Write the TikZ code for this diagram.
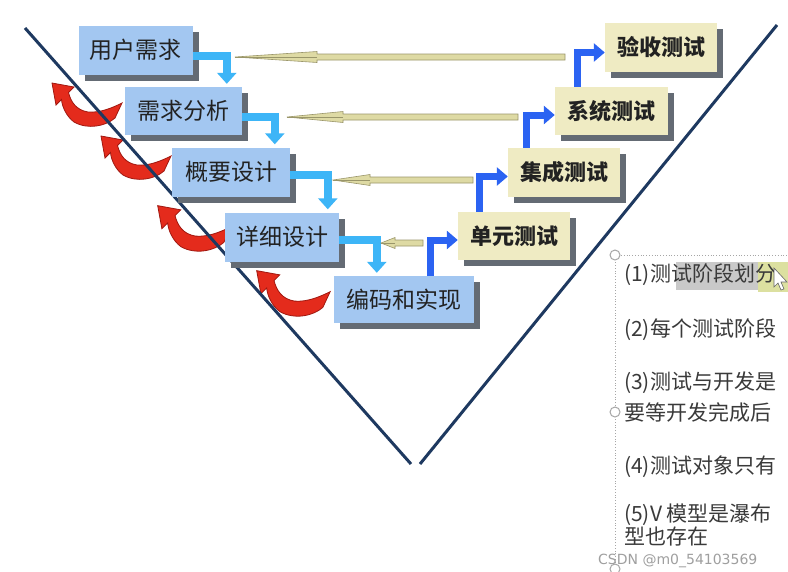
\documentclass[tikz,border=0pt]{standalone}
\usepackage{fontspec}
\newfontfamily\cjk{Noto Sans CJK SC}
\newfontfamily\wmfont{DejaVu Sans}
\usetikzlibrary{arrows.meta,shadows}
\definecolor{boxblue}{HTML}{A3C7F1}
\definecolor{boxyellow}{HTML}{EFEBC3}
\definecolor{shadowgray}{HTML}{646B74}
\definecolor{lightblue}{HTML}{3DB5F7}
\definecolor{deepblue}{HTML}{2B63F2}
\definecolor{navy}{HTML}{1E3960}
\definecolor{redf}{HTML}{E42B1C}
\definecolor{redd}{HTML}{A01810}
\definecolor{spearf}{HTML}{DEDAA4}
\definecolor{speard}{HTML}{9A966A}
\definecolor{textdark}{HTML}{222222}
\definecolor{paneltext}{HTML}{3A3A3A}
\definecolor{hlgray}{HTML}{C9C9C9}
\definecolor{hlyellow}{HTML}{DCE0A0}
\newcommand\spearto[3]{%
  \filldraw[fill=spearf, draw=speard, line width=0.6pt]
    ([yshift=3pt]#1) -- ([xshift=#3pt,yshift=3pt]#2) -- ([xshift=#3pt,yshift=5.5pt]#2)
    -- (#2) -- ([xshift=#3pt,yshift=-5.5pt]#2) -- ([xshift=#3pt,yshift=-3pt]#2)
    -- ([yshift=-3pt]#1) -- cycle;
  \draw[speard, line width=0.7pt] ([xshift=#3pt]#2) -- (#2);}
\tikzset{
  boxbase/.style={draw=none, minimum height=49pt, inner sep=0pt,
    text=textdark,
    drop shadow={shadow xshift=6pt, shadow yshift=-6pt, fill=shadowgray, opacity=1}},
  dbox/.style={boxbase, fill=boxblue, minimum width=114pt,
    font=\cjk\fontsize{23}{23}\selectfont},
  tbox/.style={boxbase, fill=boxyellow, minimum width=112pt,
    font=\cjk\bfseries\fontsize{22}{22}\selectfont},
  lbarrow/.style={draw=lightblue, line width=8pt, -{Triangle[width=19pt,length=11pt]}},
  dbarrow/.style={draw=deepblue, line width=7pt, -{Triangle[width=18pt,length=11pt]}},
  vline/.style={draw=navy, line width=3pt},
  paneltxt/.style={anchor=west, inner sep=0pt, text=paneltext,
    font=\cjk\fontsize{21}{21}\selectfont},
  panelline/.style={draw=gray!70, dotted, line width=0.8pt},
  handle/.style={draw=gray!70, fill=white, line width=1pt},
  uturn/.pic={
    \filldraw[fill=redf, draw=redd, line width=0.8pt]
      (4,-7) -- (-3,8) .. controls (-12,16) and (-30,20) .. (-44,12)
      .. controls (-52,6) and (-56,-4) .. (-56.5,-10.5) -- (-62,-5)
      -- (-66,-27) -- (-44,-23) -- (-49.5,-17.5)
      .. controls (-47,-8) and (-42,0) .. (-30,2)
      .. controls (-18,3) and (-6,-2) .. (4,-7) -- cycle;}
}
\begin{document}
\begin{tikzpicture}[x=1pt,y=-1pt]
\clip (0,0) rectangle (788,571);
\fill[white] (0,0) rectangle (788,571);

% red U-turn arrows
\pic at (118,110) {uturn};
\pic at (167,163) {uturn};
\pic[scale=1.05] at (227,234) {uturn};
\pic[scale=1.05] at (326,299) {uturn};

% V lines
\coordinate (vl1) at (25,28);
\coordinate (vl2) at (411,464);
\coordinate (vr1) at (777,25);
\coordinate (vr2) at (420,464);
\draw[vline] (vl1) -- (vl2);
\draw[vline] (vr1) -- (vr2);

% design boxes
\node[dbox] (ur) at (135.5,50) {用户需求};
\node[dbox, minimum width=117pt, minimum height=48pt] (xq) at (183.5,111) {需求分析};
\node[dbox, minimum width=118pt] (gy) at (231,172) {概要设计};
\node[dbox] (xx) at (282,237) {详细设计};
\node[dbox, minimum width=140pt, minimum height=47pt] (bm) at (404,299.5) {编码和实现};

% test boxes
\node[tbox, minimum height=48pt] (dy) at (514,236) {单元测试};
\node[tbox] (jc) at (564,172.5) {集成测试};
\node[tbox, minimum width=113pt, minimum height=48pt] (xt) at (611.5,111) {系统测试};
\node[tbox] (ys) at (661,47.5) {验收测试};

% light blue connectors
\draw[lbarrow] ([yshift=-6pt]ur.east) -| ([xshift=102pt,yshift=3pt]xq.north west);
\draw[lbarrow] ([yshift=-6pt]xq.east) -| ([xshift=103pt,yshift=3pt]gy.north west);
\draw[lbarrow] ([yshift=-3pt]gy.east) -| ([xshift=103pt,yshift=3pt]xx.north west);
\draw[lbarrow] ([yshift=-3pt]xx.east) -| ([xshift=43pt,yshift=3pt]bm.north west);

% deep blue connectors
\draw[dbarrow] ([xshift=-44pt]bm.north east) |- ([yshift=-4pt]dy.west);
\draw[dbarrow] ([xshift=22pt]dy.north west) |- ([yshift=-4pt]jc.west);
\draw[dbarrow] ([xshift=19pt]jc.north west) |- ([yshift=-4pt]xt.west);
\draw[dbarrow] ([xshift=23pt]xt.north west) |- ([yshift=-5pt]ys.west);

% spear connectors (test side -> design side)
\coordinate (s1s) at (565,57);  \coordinate (s1t) at (235,57);
\coordinate (s2s) at (518,117); \coordinate (s2t) at (287,117);
\coordinate (s3s) at (473,180); \coordinate (s3t) at (333,180);
\coordinate (s4s) at (423,243); \coordinate (s4t) at (381,243);
\spearto{s1s}{s1t}{82}
\spearto{s2s}{s2t}{56}
\spearto{s3s}{s3t}{37}
\spearto{s4s}{s4t}{14}

% right text panel
\fill[hlgray] (676,262) rectangle (758,290);
\fill[hlyellow] (758,262) rectangle (788,292);
\draw[panelline] (615,571) -- (615,255) -- (788,255);
\node[paneltxt] (p1) at (624,275) {(1)测试阶段划分};
\node[paneltxt] (p2) at (624,330) {(2)每个测试阶段};
\node[paneltxt] (p3) at (624,383) {(3)测试与开发是};
\node[paneltxt] (p3b) at (624,412) {要等开发完成后};
\node[paneltxt] (p4) at (624,467) {(4)测试对象只有};
\node[paneltxt] (p5) at (624,515) {(5)V 模型是瀑布};
\node[paneltxt] (p5b) at (624,537) {型也存在};
\filldraw[fill=white, draw=gray!80!black, line width=0.6pt]
  (774,268) -- (774,287) -- (778,283) -- (781,290) -- (784,289) -- (781,282) -- (787,282) -- cycle;
\draw[handle] (615,255) circle[radius=5pt];
\draw[handle] (615,412) circle[radius=5pt];
\draw[handle] (615,569) circle[radius=5pt];

% watermark
\node[anchor=west, inner sep=0pt, text=gray!75, font=\wmfont\fontsize{14}{14}\selectfont] (wm) at (598,561) {CSDN @m0\_54103569};
\end{tikzpicture}
\end{document}
